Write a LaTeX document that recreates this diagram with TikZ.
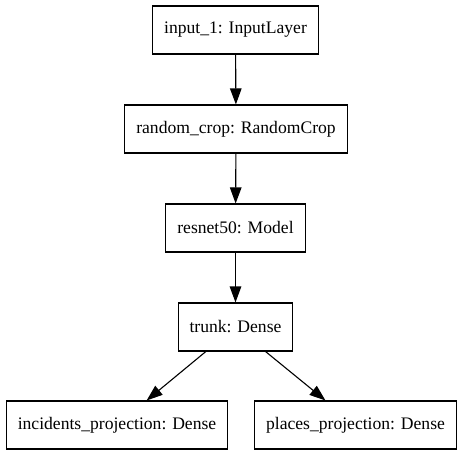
\documentclass[tikz,border=0pt]{standalone}
\usepackage{fontspec}
\setmainfont{Liberation Serif}
\usetikzlibrary{arrows.meta}

\begin{document}
\begin{tikzpicture}[x=1pt,y=-1pt]
        \tikzstyle{every node}=[font=\fontsize{17.6}{21}\selectfont]
        \tikzstyle{layer}=[draw, line width=1.1pt, minimum height=48pt, inner xsep=11.5pt, inner ysep=0pt]
        \tikzstyle{flow}=[line width=1.1pt, -{Triangle[length=16pt,width=11.5pt]}]

        \useasboundingbox (0,0) rectangle (463,456);

        \node[layer] (input) at (235.5, 30) {input\_1: InputLayer};
        \node[layer] (crop) at (236, 129) {random\_crop: RandomCrop};
        \node[layer] (resnet) at (235.5, 228) {resnet50: Model};
        \node[layer] (trunk) at (235.5, 327) {trunk: Dense};
        \node[layer] (incidents) at (117, 425) {incidents\_projection: Dense};
        \node[layer] (places) at (355.5, 425) {places\_projection: Dense};

        \draw[flow] (input) -- (crop);
        \draw[flow] (crop) -- (resnet);
        \draw[flow] (resnet) -- (trunk);
        \draw[flow] (trunk) -- (incidents);
        \draw[flow] (trunk) -- (places);

    \end{tikzpicture}
\end{document}
